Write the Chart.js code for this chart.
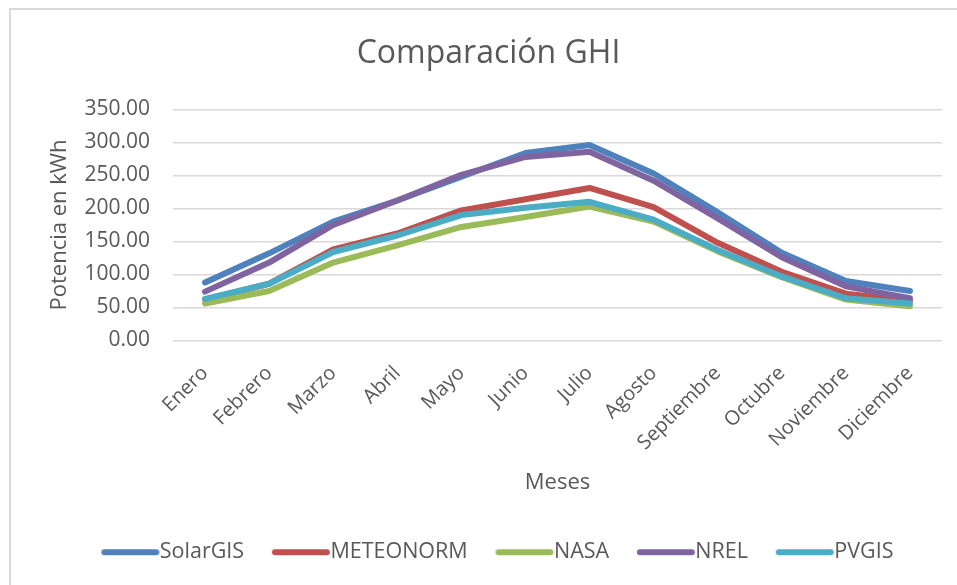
<!DOCTYPE html>
<html lang="es">
<head>
    <meta charset="UTF-8">
    <script src="https://cdn.jsdelivr.net/npm/chart.js@4"></script>
    <title>Comparación GHI</title>
    <style>
        body { margin: 0; background: #fff; }
        .marco {
            position: absolute; left: 9px; top: 8px; width: 960px; height: 590px;
            border-top: 2px solid #d9d9d9; border-left: 2px solid #d9d9d9;
        }
        .contenedor { position: absolute; left: 0; top: 0; width: 957px; height: 585px; }
    </style>
</head>
<body>
    <div class="marco"></div>
    <div class="contenedor">
        <canvas id="ghiChart"></canvas>
    </div>

    <script>
        // Datos
        const meses = ['Enero', 'Febrero', 'Marzo', 'Abril', 'Mayo', 'Junio', 'Julio',
            'Agosto', 'Septiembre', 'Octubre', 'Noviembre', 'Diciembre'];
        const solarGIS  = [88, 132, 180, 212, 248, 284, 296, 253, 194, 133, 90, 75];
        const meteonorm = [62, 86, 138, 162, 197, 214, 231, 202, 148, 104, 71, 60];
        const nasa      = [56, 75, 118, 144, 172, 187, 203, 180, 135, 96, 62, 52];
        const nrel      = [74, 118, 175, 212, 251, 278, 286, 242, 185, 126, 82, 64];
        const pvgis     = [63, 86, 134, 159, 190, 201, 210, 183, 137, 97, 64, 56];

        const gris = '#595959';

        // Muestra de línea para la leyenda (línea gruesa con extremos redondeados)
        function muestra(color) {
            const c = document.createElement('canvas');
            c.width = 88; c.height = 10;
            const g = c.getContext('2d');
            g.strokeStyle = color;
            g.lineWidth = 6;
            g.lineCap = 'round';
            g.beginPath();
            g.moveTo(32, 5);
            g.lineTo(84, 5);
            g.stroke();
            return c;
        }

        function serie(label, data, color, order) {
            return {
                label, data, order,
                borderColor: color,
                backgroundColor: color,
                borderWidth: 6,
                borderCapStyle: 'round',
                borderJoinStyle: 'round',
                pointRadius: 0,
                tension: 0,
                fill: false
            };
        }

        const ctx = document.getElementById('ghiChart').getContext('2d');
        new Chart(ctx, {
            type: 'line',
            data: {
                labels: meses,
                datasets: [
                    serie('SolarGIS', solarGIS, '#4F81BD', 5),
                    serie('METEONORM', meteonorm, '#C0504D', 4),
                    serie('NASA', nasa, '#9BBB59', 3),
                    serie('NREL', nrel, '#8064A2', 2),
                    serie('PVGIS', pvgis, '#4BACC6', 1)
                ]
            },
            options: {
                responsive: true,
                maintainAspectRatio: false,
                animation: false,
                layout: { padding: { left: 35, right: 15, top: 0, bottom: 12 } },
                plugins: {
                    title: {
                        display: true,
                        text: 'Comparación GHI',
                        color: gris,
                        font: { family: 'Open Sans', size: 32, weight: 'normal' },
                        padding: { top: 35, bottom: 36 }
                    },
                    legend: {
                        position: 'bottom',
                        labels: {
                            color: gris,
                            font: { family: 'Open Sans', size: 21.5 },
                            usePointStyle: true,
                            pointStyleWidth: 65.5,
                            padding: 10,
                            sort: (a, b) => a.datasetIndex - b.datasetIndex,
                            generateLabels: (chart) => {
                                const items = Chart.defaults.plugins.legend.labels.generateLabels(chart);
                                items.forEach(it => {
                                    it.pointStyle = muestra(chart.data.datasets[it.datasetIndex].borderColor);
                                });
                                return items;
                            }
                        }
                    },
                    tooltip: { enabled: false }
                },
                scales: {
                    x: {
                        offset: true,
                        grid: { display: false },
                        border: { display: false },
                        afterFit: (scale) => { scale.height = 191; },
                        ticks: {
                            color: gris,
                            font: { family: 'Open Sans', size: 20 },
                            maxRotation: 45,
                            minRotation: 45,
                            autoSkip: false,
                            padding: 13
                        },
                        title: {
                            display: true,
                            text: 'Meses',
                            color: gris,
                            font: { family: 'Open Sans', size: 22 },
                            padding: { top: 10, bottom: 36 }
                        }
                    },
                    y: {
                        min: 0,
                        max: 350,
                        border: { display: false },
                        grid: { color: '#d9d9d9', lineWidth: 1.5, drawTicks: false },
                        afterFit: (scale) => { scale.width = 138; },
                        ticks: {
                            stepSize: 50,
                            color: gris,
                            font: { family: 'Open Sans', size: 21 },
                            padding: 23,
                            callback: (v) => v.toFixed(2)
                        },
                        title: {
                            display: true,
                            text: 'Potencia en kWh',
                            color: gris,
                            font: { family: 'Open Sans', size: 22 },
                            padding: { top: 12, bottom: 10 }
                        }
                    }
                }
            }
        });
    </script>
</body>
</html>
